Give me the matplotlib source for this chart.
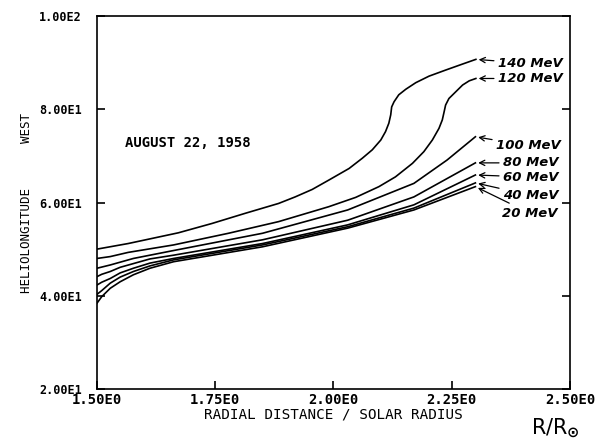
import matplotlib.pyplot as plt

plt.rc('font', family='DejaVu Sans Mono', weight='bold')
plt.rc('axes', linewidth=1.2)

# radial distance (R/Ro) and heliolongitude (deg W)
x_140 = [1.50, 1.566, 1.672, 1.743, 1.814, 1.884, 1.919, 1.955, 1.990, 2.033, 2.061,
         2.082, 2.100, 2.110, 2.117, 2.121, 2.123, 2.128, 2.138, 2.153, 2.174, 2.202,
         2.237, 2.273, 2.301]
y_140 = [50.0, 51.2, 53.5, 55.5, 57.7, 59.8, 61.2, 62.8, 64.8, 67.3, 69.5,
         71.3, 73.4, 75.2, 77.0, 78.8, 80.5, 81.6, 83.1, 84.3, 85.7, 87.1,
         88.4, 89.7, 90.7]

x_120 = [1.50, 1.528, 1.566, 1.662, 1.778, 1.884, 1.990, 2.047, 2.096, 2.131, 2.167,
         2.191, 2.209, 2.223, 2.230, 2.234, 2.237, 2.244, 2.255, 2.273, 2.287, 2.301]
y_120 = [48.0, 48.4, 49.3, 50.9, 53.4, 55.9, 59.1, 61.1, 63.4, 65.5, 68.4,
         70.9, 73.4, 75.9, 77.7, 79.5, 80.9, 82.3, 83.4, 85.2, 86.1, 86.6]

x_100 = [1.50, 1.528, 1.577, 1.662, 1.85, 2.03, 2.17, 2.24, 2.30]
y_100 = [45.9, 46.6, 48.0, 49.7, 53.4, 58.4, 64.1, 69.1, 74.1]

x_low = [1.50, 1.51, 1.528, 1.549, 1.577, 1.612, 1.662, 1.85, 2.03, 2.17, 2.30]
y_80 = [44.1, 44.6, 45.2, 46.1, 46.9, 47.9, 48.7, 52.0, 56.2, 61.2, 68.5]
y_60 = [42.3, 42.9, 43.7, 44.9, 45.9, 47.0, 48.0, 51.2, 55.2, 59.5, 65.9]
y_40 = [40.3, 41.1, 42.7, 44.0, 45.2, 46.4, 47.7, 50.9, 54.8, 58.8, 64.2]
y_20 = [38.4, 39.8, 41.6, 43.0, 44.5, 45.9, 47.3, 50.5, 54.5, 58.4, 63.4]

energies = ['140', '120', '100', '80', '60', '40', '20']
xticks = [1.5, 1.75, 2.0, 2.25, 2.5]
xtick_labels = ['1.50E0', '1.75E0', '2.00E0', '2.25E0', '2.50E0']
yticks = [20, 40, 60, 80, 100]
ytick_labels = ['2.00E1', '4.00E1', '6.00E1', '8.00E1', '1.00E2']

curves = [(x_140, y_140), (x_120, y_120), (x_100, y_100),
          (x_low, y_80), (x_low, y_60), (x_low, y_40), (x_low, y_20)]
# label offsets (points) from the end of each curve
offsets = [(16, -3), (16, 0), (15, -6.5), (20, 0), (20, -1.5), (20, -9), (19, -19)]

fig = plt.figure(figsize=(6.08, 4.42), dpi=100)
ax = fig.add_axes([0.1595, 0.1199, 0.778, 0.8439])

for (xs, ys), e, off in zip(curves, energies, offsets):
    ax.plot(xs, ys, color='black', lw=1.2, solid_joinstyle='round')
    ax.annotate(e + ' MeV', xy=(xs[-1], ys[-1]), xytext=off,
                textcoords='offset points', ha='left', va='center',
                fontsize=9.5, style='italic', family='DejaVu Sans',
                weight='bold',
                arrowprops=dict(arrowstyle='->', color='black', lw=0.9,
                                shrinkA=1, shrinkB=2))

ax.set_xlim(1.5, 2.5)
ax.set_ylim(20, 100)
ax.set_xticks(xticks)
ax.set_xticklabels(xtick_labels, fontsize=10)
ax.set_yticks(yticks)
ax.set_yticklabels(ytick_labels, fontsize=8.5)
ax.tick_params(axis='both', direction='in', length=6, width=1.2,
               right=True, top=False)
ax.tick_params(axis='y', pad=11)
ax.tick_params(axis='x', pad=3)

ax.set_xlabel('RADIAL DISTANCE / SOLAR RADIUS', fontsize=10.3, labelpad=0)
ax.set_ylabel('HELIOLONGITUDE      WEST', fontsize=9, labelpad=4.5)

ax.text(0.059, 0.66, 'AUGUST 22, 1958', transform=ax.transAxes,
        fontsize=10, ha='left', va='center')
fig.text(0.913, 0.032, r'R/R$_{\odot}$', fontsize=15, ha='center',
         va='center', fontweight='normal', family='DejaVu Sans')

fig.savefig('out.png', dpi=100)
